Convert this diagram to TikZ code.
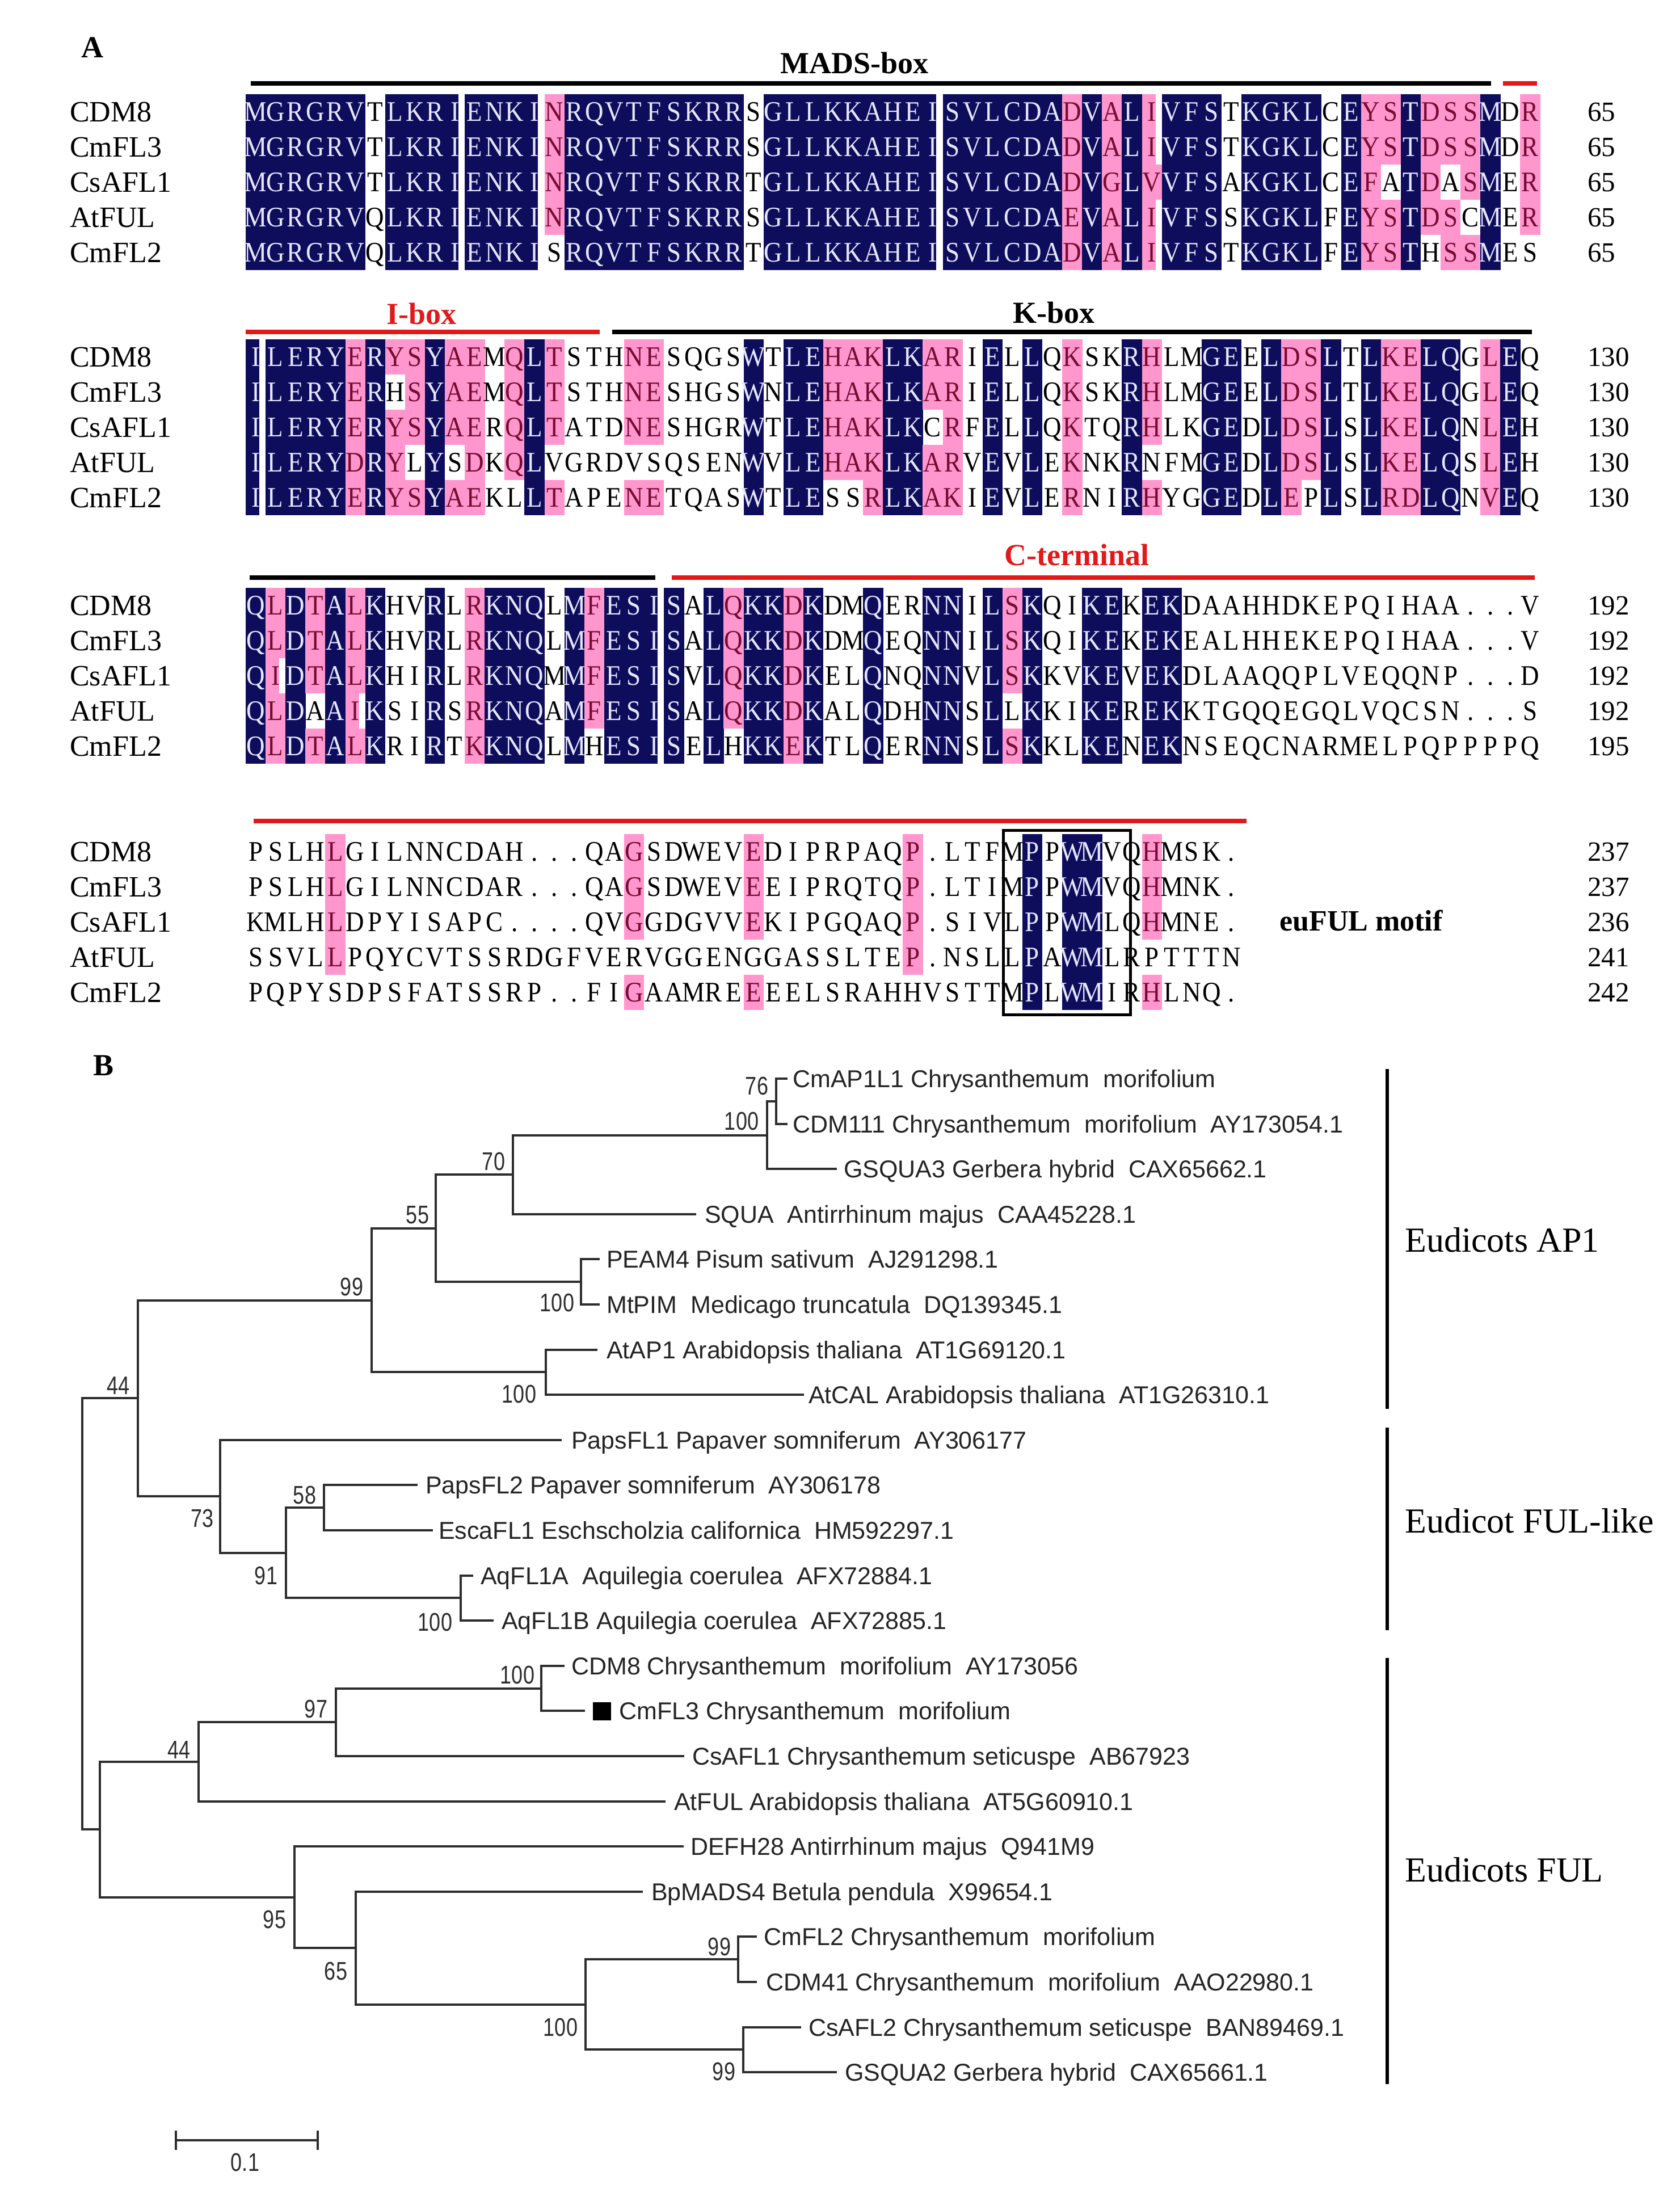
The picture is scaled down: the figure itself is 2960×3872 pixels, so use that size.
\documentclass[tikz,border=0pt]{standalone}
\usepackage{fontspec}
\usetikzlibrary{calc}
\setmainfont{Liberation Serif}
\newfontfamily\seqfam[FakeStretch=0.9]{Liberation Serif}
\newfontfamily\sansfam{Liberation Sans}
\newfontfamily\bsfam[FakeStretch=0.8]{Liberation Sans}
\definecolor{navyc}{RGB}{14,13,92}
\definecolor{pinkc}{RGB}{255,150,205}
\definecolor{navytext}{RGB}{230,230,255}
\definecolor{pinktext}{RGB}{120,10,50}
\definecolor{redc}{RGB}{225,25,25}
\definecolor{treec}{RGB}{45,45,45}

\tikzset{
  seqch/.style={font=\seqfam\fontsize{50pt}{50pt}\selectfont, inner sep=0pt, text height=33.1pt, text depth=0pt, anchor=center},
  namel/.style={font=\fontsize{52pt}{52pt}\selectfont, inner sep=0pt, anchor=west, text height=34.4pt, text depth=0pt},
  numl/.style={font=\fontsize{49pt}{49pt}\selectfont, inner sep=0pt, anchor=west, text height=33pt, text depth=0pt},
  hdr/.style={font=\bfseries\fontsize{54pt}{54pt}\selectfont, inner sep=0pt, text height=36pt, text depth=0pt},
  barb/.style={line width=8pt, black},
  barr/.style={line width=8pt, redc},
  tree/.style={line width=4pt, treec, line cap=rect},
  tipl/.style={font=\sansfam\fontsize{43pt}{43pt}\selectfont, inner sep=0pt, anchor=west, text height=30.8pt, text depth=0pt, text=treec!80!black},
  bsl/.style={font=\bsfam\fontsize{45pt}{45pt}\selectfont, inner sep=0pt, anchor=center, text height=32pt, text depth=0pt, text=treec},
  grpl/.style={font=\fontsize{62pt}{62pt}\selectfont, inner sep=0pt, anchor=west, text height=41pt, text depth=0pt},
  grpbar/.style={line width=6pt, black}
}

\newcommand\alntop{166}
\newcommand\alnfill[4]{%
  \fill[#1] ({433+(#2-1)*35.1},{\alntop+(#3-1)*62}) rectangle ++({\ifnum#4=1 24\else 35.4\fi},62.3);}
\newcommand\alncell[5]{%
  \ifcase#3\relax \def\alntc{black}%
  \or \def\alntc{pinktext}\alnfill{pinkc}{#1}{#2}{#4}%
  \or \def\alntc{navytext}\alnfill{navyc}{#1}{#2}{#4}%
  \fi
  \node[seqch,text=\alntc] (cell\alntop x#1y#2) at ({433+(#1-0.5)*35.1},{\alntop+(#2-0.5)*62}) {#5};}

\newcommand\alnmeta[6]{%
  \foreach \nm/\nu [count=\r] in {CDM8/#2, CmFL3/#3, CsAFL1/#4, AtFUL/#5, CmFL2/#6} {
    \node[namel] (nm#1r\r) at (123, {#1+(\r-0.5)*62}) {\nm};
    \node[numl] (nu#1r\r) at (2798, {#1+(\r-0.5)*62}) {\nu};
  }}

\ExplSyntaxOn
\str_new:N \l__aln_a_str
\str_new:N \l__aln_b_str
\str_new:N \l__aln_c_str
\str_new:N \l__aln_d_str
\str_new:N \l__aln_e_str
\str_new:N \l__aln_ch_str
\str_new:N \l__aln_cons_str
\str_new:N \l__aln_g_str
\str_new:N \l__aln_cg_str
\int_new:N \l__aln_cnt_int
\int_new:N \l__aln_max_int
\int_new:N \l__aln_type_int
\int_new:c { l__aln_k1_int }
\int_new:c { l__aln_k2_int }
\int_new:c { l__aln_k3_int }
\int_new:c { l__aln_k4_int }
\int_new:c { l__aln_k5_int }
\cs_new:Npn \__aln_item:nn #1#2
  {
    \int_case:nn {#1}
      {
        {1}{\str_item:Nn \l__aln_a_str {#2}}
        {2}{\str_item:Nn \l__aln_b_str {#2}}
        {3}{\str_item:Nn \l__aln_c_str {#2}}
        {4}{\str_item:Nn \l__aln_d_str {#2}}
        {5}{\str_item:Nn \l__aln_e_str {#2}}
      }
  }
\cs_new:Npn \__aln_grp:n #1
  {
    \str_case:nnF {#1}
      {
        {D}{d} {E}{d} {A}{a} {G}{a} {I}{i} {L}{i} {V}{i} {M}{i}
        {F}{f} {Y}{f} {W}{f} {K}{k} {R}{k}
      }
      {#1}
  }
\cs_new_protected:Npn \__aln_count:nn #1#2
  {
    \int_zero:N \l__aln_cnt_int
    \str_set:Nx \l__aln_ch_str { \__aln_item:nn {#1} {#2} }
    \str_if_eq:eeF { \l__aln_ch_str } { . }
      {
        \int_step_inline:nn { 5 }
          {
            \str_if_eq:eeT { \l__aln_ch_str } { \__aln_item:nn {##1} {#2} }
              { \int_incr:N \l__aln_cnt_int }
          }
      }
    \int_set_eq:cN { l__aln_k #1 _int } \l__aln_cnt_int
  }
\cs_new_protected:Npn \__aln_block:nnnnnn #1#2#3#4#5#6
  {
    \cs_set:Npn \alntop {#1}
    \str_set:Nn \l__aln_a_str {#2}
    \str_set:Nn \l__aln_b_str {#3}
    \str_set:Nn \l__aln_c_str {#4}
    \str_set:Nn \l__aln_d_str {#5}
    \str_set:Nn \l__aln_e_str {#6}
    \int_step_inline:nn { \str_count:N \l__aln_a_str }
      {
        \int_zero:N \l__aln_max_int
        \str_clear:N \l__aln_cons_str
        \int_step_inline:nn { 5 }
          {
            \__aln_count:nn {####1} {##1}
            \int_set:Nn \l__aln_max_int { \int_max:nn { \l__aln_max_int } { \l__aln_cnt_int } }
            \int_compare:nNnT { \l__aln_cnt_int } > { 3 }
              { \str_set:Nx \l__aln_cons_str { \__aln_item:nn {####1} {##1} } }
          }
        \str_set:Nx \l__aln_cg_str { \exp_args:NV \__aln_grp:n \l__aln_cons_str }
        \int_step_inline:nn { 5 }
          {
            \str_set:Nx \l__aln_ch_str { \__aln_item:nn {####1} {##1} }
            \int_compare:nNnTF { \l__aln_max_int } = { 5 }
              { \int_set:Nn \l__aln_type_int { 2 } }
              {
                \int_set:Nn \l__aln_type_int { 0 }
                \int_compare:nNnT { \l__aln_max_int } > { 3 }
                  {
                    \str_set:Nx \l__aln_g_str { \exp_args:NV \__aln_grp:n \l__aln_ch_str }
                    \str_if_eq:eeT { \l__aln_g_str } { \l__aln_cg_str }
                      { \int_set:Nn \l__aln_type_int { 1 } }
                  }
              }
            \use:x
              {
                \exp_not:N \alncell {##1} {####1} { \int_use:N \l__aln_type_int }
                  { \str_if_eq:eeTF { \l__aln_ch_str } { I } { 1 } { 0 } }
                  { \l__aln_ch_str }
              }
          }
      }
  }
\cs_new_eq:NN \alnblock \__aln_block:nnnnnn
\ExplSyntaxOff

\begin{document}
\begin{tikzpicture}[x=1pt,y=-1pt]
\useasboundingbox (0,0) rectangle (2960,3872);
\fill[white] (0,0) rectangle (2960,3872);

% ---------------- Panel A ----------------
\node[hdr] (labA) at (163,84) {A};

% block 1
\node[hdr] (madsl) at (1506,112) {MADS-box};
\draw[barb] (442,147) -- (2628,147);
\draw[barr] (2649,147) -- (2709,147);
\alnblock{166}
 {MGRGRVTLKRIENKINRQVTFSKRRSGLLKKAHEISVLCDADVALIVFSTKGKLCEYSTDSSMDR}
 {MGRGRVTLKRIENKINRQVTFSKRRSGLLKKAHEISVLCDADVALIVFSTKGKLCEYSTDSSMDR}
 {MGRGRVTLKRIENKINRQVTFSKRRTGLLKKAHEISVLCDADVGLVVFSAKGKLCEFATDASMER}
 {MGRGRVQLKRIENKINRQVTFSKRRSGLLKKAHEISVLCDAEVALIVFSSKGKLFEYSTDSCMER}
 {MGRGRVQLKRIENKISRQVTFSKRRTGLLKKAHEISVLCDADVALIVFSTKGKLFEYSTHSSMES}
\alnmeta{166}{65}{65}{65}{65}{65}

% block 2
\node[hdr, text=redc] (iboxl) at (743,553) {I-box};
\node[hdr] (kboxl) at (1857,551) {K-box};
\draw[barr] (433,585) -- (1057,585);
\draw[barb] (1079,585) -- (2700,585);
\alnblock{598}
 {ILERYERYSYAEMQLTSTHNESQGSWTLEHAKLKARIELLQKSKRHLMGEELDSLTLKELQGLEQ}
 {ILERYERHSYAEMQLTSTHNESHGSWNLEHAKLKARIELLQKSKRHLMGEELDSLTLKELQGLEQ}
 {ILERYERYSYAERQLTATDNESHGRWTLEHAKLKCRFELLQKTQRHLKGEDLDSLSLKELQNLEH}
 {ILERYDRYLYSDKQLVGRDVSQSENWVLEHAKLKARVEVLEKNKRNFMGEDLDSLSLKELQSLEH}
 {ILERYERYSYAEKLLTAPENETQASWTLESSRLKAKIEVLERNIRHYGGEDLEPLSLRDLQNVEQ}
\alnmeta{598}{130}{130}{130}{130}{130}

% block 3
\node[hdr, text=redc] (ctl) at (1898,978) {C-terminal};
\draw[barb] (440,1018) -- (1155,1018);
\draw[barr] (1184,1018) -- (2705,1018);
\alnblock{1036}
 {QLDTALKHVRLRKNQLMFESISALQKKDKDMQERNNILSKQIKEKEKDAAHHDKEPQIHAA...V}
 {QLDTALKHVRLRKNQLMFESISALQKKDKDMQEQNNILSKQIKEKEKEALHHEKEPQIHAA...V}
 {QIDTALKHIRLRKNQMMFESISVLQKKDKELQNQNNVLSKKVKEVEKDLAAQQPLVEQQNP...D}
 {QLDAAIKSIRSRKNQAMFESISALQKKDKALQDHNNSLLKKIKEREKKTGQQEGQLVQCSN...S}
 {QLDTALKRIRTKKNQLMHESISELHKKEKTLQERNNSLSKKLKENEKNSEQCNARMELPQPPPPQ}
\alnmeta{1036}{192}{192}{192}{192}{195}

% block 4
\draw[barr] (447,1447) -- (2197,1447);
\alnblock{1470}
 {PSLHLGILNNCDAH...QAGSDWEVEDIPRPAQP.LTFMPPWMVQHMSK.}
 {PSLHLGILNNCDAR...QAGSDWEVEEIPRQTQP.LTIMPPWMVQHMNK.}
 {KMLHLDPYISAPC....QVGGDGVVEKIPGQAQP.SIVLPPWMLQHMNE.}
 {SSVLLPQYCVTSSRDGFVERVGGENGGASSLTEP.NSLLPAWMLRPTTTN}
 {PQPYSDPSFATSSRP..FIGAAMREEEELSRAHHVSTTMPLWMIRHLNQ.}
\alnmeta{1470}{237}{237}{236}{241}{242}
\draw[line width=5pt] (1768,1463) rectangle (1992,1788);
\node[hdr, font=\bfseries\fontsize{52pt}{52pt}\selectfont] (eufl) at (2399,1622) {euFUL motif};

% ---------------- Panel B ----------------
\node[hdr] (labB) at (183,1877) {B};

% internal nodes
\coordinate (root) at (145,2844.4);
\coordinate (nH) at (243,2464.4);
\coordinate (nP) at (176,3224.4);
\coordinate (nG) at (655,2291.5);
\coordinate (nI) at (388,2637.3);
\coordinate (nD) at (768,2164.7);
\coordinate (nF) at (962,2418.4);
\coordinate (nC) at (904,2070.2);
\coordinate (nE) at (1024,2259.2);
\coordinate (nB) at (1352,2000.5);
\coordinate (nA) at (1368,1940.8);
\coordinate (nJ) at (504,2736.8);
\coordinate (nK) at (571,2657.2);
\coordinate (nL) at (812,2816.4);
\coordinate (nO) at (350,3105);
\coordinate (nN) at (592,3035.3);
\coordinate (nM) at (954,2975.6);
\coordinate (nQ) at (519,3343.8);
\coordinate (nR) at (627,3433.3);
\coordinate (nS) at (1032,3532.8);
\coordinate (nT) at (1301,3453.2);
\coordinate (nU) at (1310,3612.4);

% tips: end x, label x, y, text
\foreach \i/\ex/\lx/\yy/\txt in {
 1/1386/1397/1901.0/{CmAP1L1 Chrysanthemum\ \ morifolium},
 2/1386/1397/1980.6/{CDM111 Chrysanthemum\ \ morifolium\ \ AY173054.1},
 3/1473/1487/2060.2/{GSQUA3 Gerbera hybrid\ \ CAX65662.1},
 4/1225/1242/2139.8/{SQUA\ \ Antirrhinum majus\ \ CAA45228.1},
 5/1055/1069/2219.4/{PEAM4 Pisum sativum\ \ AJ291298.1},
 6/1055/1069/2299.0/{MtPIM\ \ Medicago truncatula\ \ DQ139345.1},
 7/1051/1069/2378.6/{AtAP1 Arabidopsis thaliana\ \ AT1G69120.1},
 8/1415/1425/2458.2/{AtCAL Arabidopsis thaliana\ \ AT1G26310.1},
 9/988/1007/2537.8/{PapsFL1 Papaver somniferum\ \ AY306177},
 10/734/750/2617.4/{PapsFL2 Papaver somniferum\ \ AY306178},
 11/761/773/2697.0/{EscaFL1 Eschscholzia californica\ \ HM592297.1},
 12/832/847/2776.6/{AqFL1A\ \ Aquilegia coerulea\ \ AFX72884.1},
 13/868/884/2856.2/{AqFL1B Aquilegia coerulea\ \ AFX72885.1},
 14/993/1007/2935.8/{CDM8 Chrysanthemum\ \ morifolium\ \ AY173056},
 15/1029/1091/3015.4/{CmFL3 Chrysanthemum\ \ morifolium},
 16/1204/1220/3095.0/{CsAFL1 Chrysanthemum seticuspe\ \ AB67923},
 17/1171/1188/3174.6/{AtFUL Arabidopsis thaliana\ \ AT5G60910.1},
 18/1203/1217/3254.2/{DEFH28 Antirrhinum majus\ \ Q941M9},
 19/1131/1148/3333.8/{BpMADS4 Betula pendula\ \ X99654.1},
 20/1332/1346/3413.4/{CmFL2 Chrysanthemum\ \ morifolium},
 21/1332/1350/3493.0/{CDM41 Chrysanthemum\ \ morifolium\ \ AAO22980.1},
 22/1410/1425/3572.6/{CsAFL2 Chrysanthemum seticuspe\ \ BAN89469.1},
 23/1473/1489/3652.2/{GSQUA2 Gerbera hybrid\ \ CAX65661.1}} {
  \coordinate (t\i) at (\ex,\yy);
  \node[tipl] (lab\i) at (\lx,\yy) {\txt};
}
\node[fill=black, minimum size=32pt, inner sep=0pt] (sq) at (1061,3016) {};

% branches
\foreach \p/\c in {root/nH, root/nP,
  nH/nG, nH/nI, nG/nD, nG/nF, nD/nC, nD/nE, nC/nB, nC/t4, nB/nA, nB/t3,
  nA/t1, nA/t2, nE/t5, nE/t6, nF/t7, nF/t8, nI/t9, nI/nJ, nJ/nK, nJ/nL,
  nK/t10, nK/t11, nL/t12, nL/t13,
  nP/nO, nP/nQ, nO/nN, nO/t17, nN/nM, nN/t16, nM/t14, nM/t15,
  nQ/t18, nQ/nR, nR/t19, nR/nS, nS/nT, nS/nU, nT/t20, nT/t21, nU/t22, nU/t23} {
  \draw[tree] (\p) |- (\c);
}

% bootstrap values
\foreach \bx/\by/\bv [count=\k] in {1334/1913/76, 1307/1975/100, 870/2046/70, 736/2140/55,
  982/2295/100, 915/2456/100, 620/2267/99, 209/2441/44, 357/2675/73, 469/2776/91,
  537/2634/58, 767/2858/100, 912/2951/100, 557/3011/97, 316/3083/44, 484/3382/95,
  592/3473/65, 988/3572/100, 1268/3430/99, 1276/3650/99} {
  \node[bsl] (bs\k) at (\bx,\by) {\bv};
}

% group bars and labels
\draw[grpbar] (2445,1884) -- (2445,2483);
\draw[grpbar] (2445,2516) -- (2445,2873);
\draw[grpbar] (2445,2922) -- (2445,3673);
\node[grpl] (g1) at (2476,2186) {Eudicots AP1};
\node[grpl] (g2) at (2476,2681) {Eudicot FUL-like};
\node[grpl] (g3) at (2476,3296) {Eudicots FUL};

% scale bar
\coordinate (sb1) at (310,3772);
\coordinate (sb2) at (560,3772);
\draw[tree] (sb1) -- (sb2);
\draw[tree] ($(sb1)+(0,-15)$) -- ($(sb1)+(0,15)$);
\draw[tree] ($(sb2)+(0,-15)$) -- ($(sb2)+(0,15)$);
\node[bsl] (sbl) at (432,3810) {0.1};
\end{tikzpicture}
\end{document}
